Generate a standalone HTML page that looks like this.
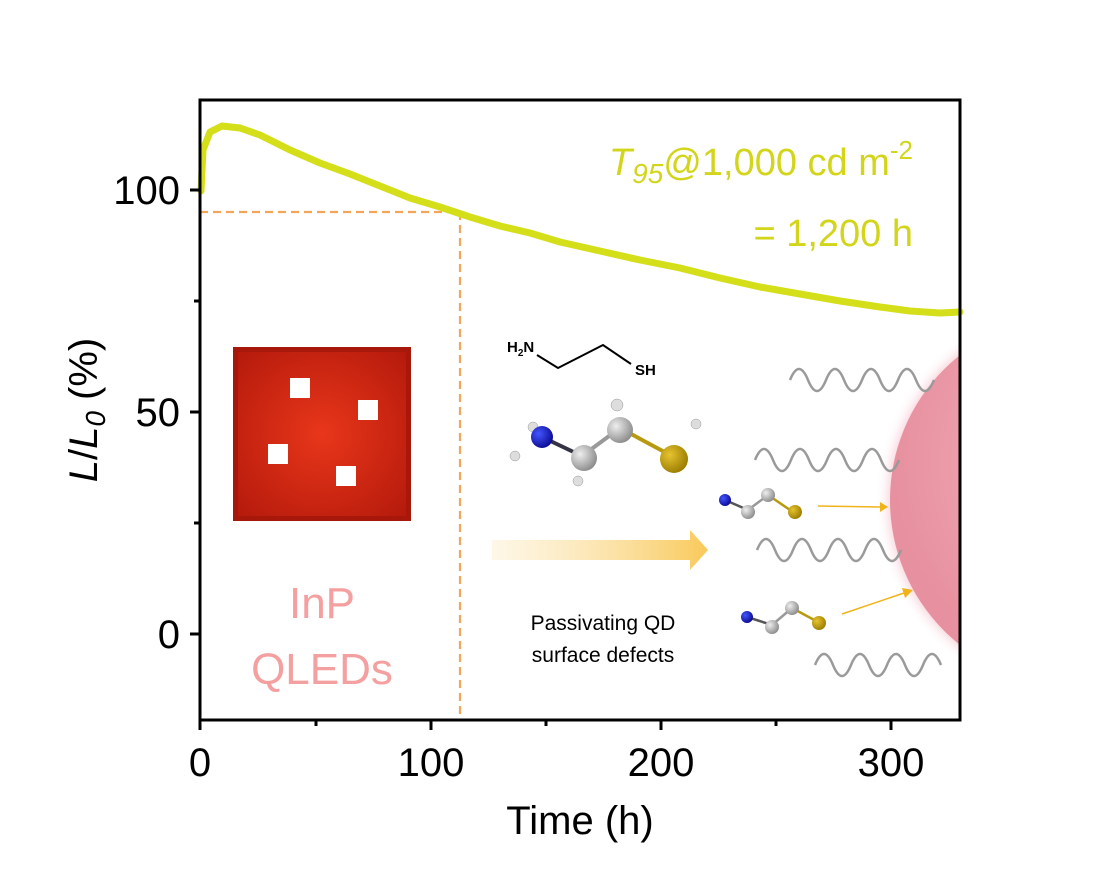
<!DOCTYPE html>
<html><head><meta charset="utf-8"><style>
html,body{margin:0;padding:0;background:#fff;}
svg{display:block;font-family:"Liberation Sans",Arial,sans-serif;}
</style></head><body>
<svg width="1118" height="869" viewBox="0 0 1118 869" xmlns="http://www.w3.org/2000/svg">
<defs>
<radialGradient id="qd" cx="0.5" cy="0.5" r="0.5">
<stop offset="0.8" stop-color="#f2aab6"/><stop offset="0.9" stop-color="#f7c6cf"/><stop offset="1" stop-color="#fff" stop-opacity="0"/>
</radialGradient>
<radialGradient id="qd2" cx="0.6" cy="0.4" r="0.6">
<stop offset="0" stop-color="#f7b8c2"/><stop offset="1" stop-color="#e7909f"/>
</radialGradient>
<radialGradient id="photo" cx="0.5" cy="0.5" r="0.7">
<stop offset="0" stop-color="#e8361a"/><stop offset="1" stop-color="#b51a0c"/>
</radialGradient>
<linearGradient id="arr" x1="0" x2="1"><stop offset="0" stop-color="#fbe4b0" stop-opacity="0.3"/><stop offset="1" stop-color="#f9c95a"/></linearGradient>
<radialGradient id="ball" cx="0.35" cy="0.35" r="0.7"><stop offset="0" stop-color="#eee"/><stop offset="1" stop-color="#8a8a8a"/></radialGradient>
<radialGradient id="nb" cx="0.35" cy="0.35" r="0.7"><stop offset="0" stop-color="#4455ff"/><stop offset="1" stop-color="#0a0a90"/></radialGradient>
<radialGradient id="sb" cx="0.35" cy="0.35" r="0.7"><stop offset="0" stop-color="#e6c330"/><stop offset="1" stop-color="#9a7c00"/></radialGradient>
<clipPath id="pc"><rect x="200" y="100" width="760" height="620"/></clipPath>
</defs>

<g clip-path="url(#pc)">
<circle cx="1075" cy="500" r="200" fill="url(#qd)"/>
<circle cx="1075" cy="500" r="185" fill="url(#qd2)"/>
</g>

<g fill="none" stroke="#9a9a9a" stroke-width="2.5">
<path d="M790 380 q9 -22 18 0 t18 0 t18 0 t18 0 t18 0 t18 0 t18 0 t18 0"/>
<path d="M755 460 q9 -22 18 0 t18 0 t18 0 t18 0 t18 0 t18 0 t18 0 t18 0"/>
<path d="M757 550 q9 -22 18 0 t18 0 t18 0 t18 0 t18 0 t18 0 t18 0 t18 0"/>
<path d="M815 665 q9 -22 18 0 t18 0 t18 0 t18 0 t18 0 t18 0 t18 0"/>
</g>

<g stroke="#f2a65a" stroke-width="2.2" stroke-dasharray="8,5" fill="none">
<line x1="200" y1="212" x2="460" y2="212"/>
<line x1="460" y1="212" x2="460" y2="720"/>
</g>

<path d="M201 191 L203 150 L210 132 L222 126 L240 128 L260 135 L290 150 L320 163 L350 174 L380 186 L410 198 L440 207 L470 217 L500 226 L530 233 L560 242 L600 251 L640 260 L680 268 L720 278 L760 287 L800 294 L840 301 L880 307 L910 311 L940 313 L960 312" fill="none" stroke="#d4df1a" stroke-width="7" stroke-linejoin="round" stroke-linecap="round"/>

<rect x="200" y="100" width="760" height="620" fill="none" stroke="#000" stroke-width="3"/>
<g stroke="#000" stroke-width="3">
<line x1="190" y1="190" x2="200" y2="190"/><line x1="190" y1="412" x2="200" y2="412"/><line x1="190" y1="634" x2="200" y2="634"/>
<line x1="194" y1="301" x2="200" y2="301"/><line x1="194" y1="523" x2="200" y2="523"/>
<line x1="200" y1="720" x2="200" y2="730"/><line x1="431" y1="720" x2="431" y2="730"/><line x1="661" y1="720" x2="661" y2="730"/><line x1="891" y1="720" x2="891" y2="730"/>
<line x1="316" y1="720" x2="316" y2="726"/><line x1="546" y1="720" x2="546" y2="726"/><line x1="776" y1="720" x2="776" y2="726"/>
</g>
<g font-size="40" fill="#000">
<text x="180" y="204" text-anchor="end">100</text>
<text x="180" y="426" text-anchor="end">50</text>
<text x="180" y="648" text-anchor="end">0</text>
<text x="200" y="776" text-anchor="middle">0</text>
<text x="431" y="776" text-anchor="middle">100</text>
<text x="661" y="776" text-anchor="middle">200</text>
<text x="891" y="776" text-anchor="middle">300</text>
<text x="580" y="834" text-anchor="middle">Time (h)</text>
</g>
<text transform="translate(97,410) rotate(-90)" text-anchor="middle" font-size="40"><tspan font-style="italic">L</tspan>/<tspan font-style="italic">L</tspan><tspan font-style="italic" font-size="28" dy="8">0</tspan><tspan dy="-8"> (%)</tspan></text>

<g fill="#d2d51a" font-size="38">
<text x="913" y="175" text-anchor="end"><tspan font-style="italic">T</tspan><tspan font-style="italic" font-size="28" dy="8">95</tspan><tspan dy="-8">@1,000 cd m</tspan><tspan font-size="26" dy="-16">-2</tspan></text>
<text x="913" y="246" text-anchor="end">= 1,200 h</text>
</g>

<rect x="233" y="347" width="178" height="174" fill="#a8180a"/>
<rect x="238" y="352" width="168" height="164" fill="url(#photo)"/>
<g fill="#fff">
<rect x="290" y="378" width="20" height="20"/><rect x="358" y="400" width="20" height="20"/>
<rect x="268" y="444" width="20" height="20"/><rect x="336" y="466" width="20" height="20"/>
</g>
<g fill="#f5a0a0" font-size="44" text-anchor="middle">
<text x="322" y="618">InP</text><text x="322" y="684">QLEDs</text>
</g>

<path d="M492 540 L690 540 L690 530 L708 550 L690 570 L690 560 L492 560 Z" fill="url(#arr)"/>
<g font-size="21" fill="#000" text-anchor="middle">
<text x="603" y="630">Passivating QD</text><text x="603" y="662">surface defects</text>
</g>

<text x="507" y="352" font-size="15" font-weight="bold">H<tspan font-size="10" dy="4">2</tspan><tspan dy="-4">N</tspan></text>
<polyline points="537,355 558,368 603,345 631,364" fill="none" stroke="#000" stroke-width="2"/>
<text x="635" y="375" font-size="15" font-weight="bold">SH</text>

<g stroke-width="4">
<line x1="542" y1="437" x2="582" y2="456" stroke="#334"/>
<line x1="582" y1="456" x2="620" y2="428" stroke="#999"/>
<line x1="620" y1="428" x2="670" y2="455" stroke="#b89a10"/>
</g>
<g fill="#ddd" stroke="#999" stroke-width="0.5">
<circle cx="533" cy="427" r="5"/><circle cx="515" cy="456" r="5"/>
<circle cx="578" cy="481" r="5"/><circle cx="617" cy="405" r="6"/><circle cx="696" cy="424" r="5"/>
</g>
<circle cx="542" cy="437" r="11" fill="url(#nb)"/>
<circle cx="584" cy="458" r="13" fill="url(#ball)"/>
<circle cx="620" cy="430" r="13" fill="url(#ball)"/>
<circle cx="674" cy="459" r="14" fill="url(#sb)"/>

<g>
<line x1="725" y1="500" x2="748" y2="510" stroke="#555" stroke-width="2.5"/>
<line x1="748" y1="510" x2="768" y2="495" stroke="#999" stroke-width="2.5"/>
<line x1="768" y1="495" x2="793" y2="512" stroke="#b89a10" stroke-width="2.5"/>
<circle cx="725" cy="500" r="6" fill="url(#nb)"/><circle cx="748" cy="512" r="7" fill="url(#ball)"/>
<circle cx="768" cy="495" r="7" fill="url(#ball)"/><circle cx="795" cy="512" r="7" fill="url(#sb)"/>
<line x1="818" y1="506" x2="880" y2="507" stroke="#f0b41a" stroke-width="1.5"/>
<path d="M880 502 L888 507 L880 512 Z" fill="#f0b41a"/>
</g>
<g>
<line x1="747" y1="617" x2="772" y2="625" stroke="#555" stroke-width="2.5"/>
<line x1="772" y1="625" x2="792" y2="608" stroke="#999" stroke-width="2.5"/>
<line x1="792" y1="608" x2="818" y2="622" stroke="#b89a10" stroke-width="2.5"/>
<circle cx="747" cy="617" r="6" fill="url(#nb)"/><circle cx="772" cy="627" r="7" fill="url(#ball)"/>
<circle cx="792" cy="608" r="7" fill="url(#ball)"/><circle cx="819" cy="623" r="7" fill="url(#sb)"/>
<line x1="842" y1="614" x2="904" y2="593" stroke="#f0b41a" stroke-width="1.5"/>
<path d="M902 588 L913 590 L905 598 Z" fill="#f0b41a"/>
</g>
</svg>
</body></html>
